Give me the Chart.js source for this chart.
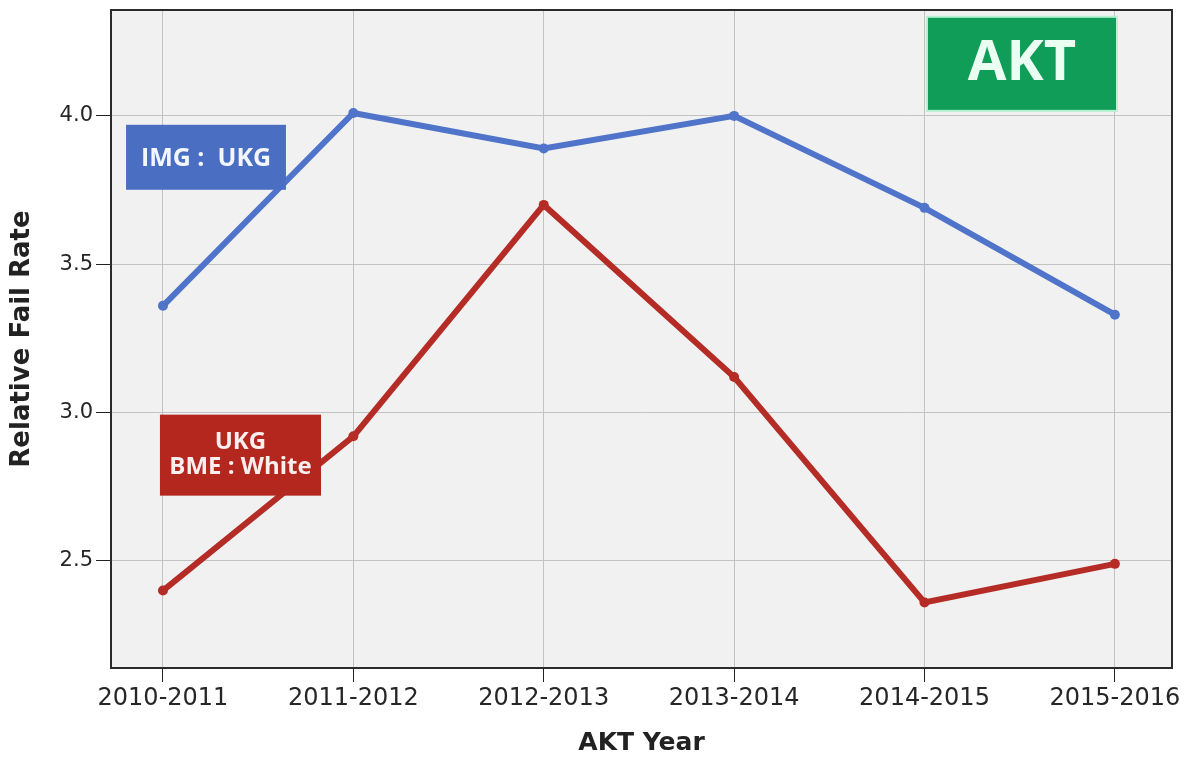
<!DOCTYPE html>
<html>
<head>
<meta charset="utf-8">
<script src="https://cdn.jsdelivr.net/npm/chart.js@4/dist/chart.umd.min.js"></script>
<style>
  html, body { margin: 0; padding: 0; background: #ffffff; }
  #wrap { width: 1191px; height: 762px; }
</style>
</head>
<body>
<div id="wrap"><canvas id="aktChart" width="1191" height="762"></canvas></div>
<script>
// data
const years = ["2010-2011", "2011-2012", "2012-2013", "2013-2014", "2014-2015", "2015-2016"];
const imgUkg = [3.36, 4.01, 3.89, 4.0, 3.69, 3.33];
const bmeWhite = [2.4, 2.92, 3.7, 3.12, 2.36, 2.49];
const yTicks = [2.5, 3.0, 3.5, 4.0];

// boxed labels, placed in data units
const boxes = [
  { x0: -0.194, x1: 0.646, y0: 3.970, y1: 3.751, fill: "#4a6ec2", text: ["IMG :  UKG"], font: "bold 25px 'Open Sans'", color: "#f4f6ff", dy: 2 },
  { x0: -0.016, x1: 0.830, y0: 2.993, y1: 2.720, fill: "#b3271f", text: ["UKG", "BME : White"], font: "bold 24px 'Open Sans'", color: "#fbeeee", dy: 0 },
  { x0: 4.013, x1: 5.011, y0: 4.334, y1: 4.017, fill: "#0f9d58", text: ["AKT"], font: "bold 56px 'Open Sans'", color: "#eafff2", border: "#b6f2d2", dy: 0 },
];

const toPoints = (vals) => vals.map((v, i) => ({ x: i, y: v }));

const frame = {
  id: "frame",
  beforeDraw(chart) {
    const { ctx, chartArea: a } = chart;
    ctx.save();
    ctx.fillStyle = "#f1f1f1";
    ctx.fillRect(a.left, a.top, a.right - a.left, a.bottom - a.top);
    ctx.restore();
  },
  afterDatasetsDraw(chart) {
    const { ctx, chartArea: a, scales } = chart;
    ctx.save();
    boxes.forEach((b) => {
      const l = scales.x.getPixelForValue(b.x0);
      const r = scales.x.getPixelForValue(b.x1);
      const t = scales.y.getPixelForValue(b.y0);
      const btm = scales.y.getPixelForValue(b.y1);
      ctx.fillStyle = b.fill;
      ctx.fillRect(l, t, r - l, btm - t);
      if (b.border) {
        ctx.strokeStyle = b.border;
        ctx.lineWidth = 2;
        ctx.strokeRect(l, t, r - l, btm - t);
      }
      ctx.fillStyle = b.color;
      ctx.font = b.font;
      ctx.textAlign = "center";
      ctx.textBaseline = "middle";
      const lh = b.text.length > 1 ? 25 : 0;
      const cy = (t + btm) / 2 - (lh * (b.text.length - 1)) / 2 + b.dy;
      b.text.forEach((s, i) => ctx.fillText(s, (l + r) / 2, cy + i * lh));
    });
    // plot frame
    ctx.strokeStyle = "#2b2b2b";
    ctx.lineWidth = 2;
    ctx.strokeRect(a.left, a.top, a.right - a.left, a.bottom - a.top);
    ctx.restore();
  },
};

new Chart(document.getElementById("aktChart"), {
  type: "line",
  data: {
    datasets: [
      {
        label: "IMG : UKG",
        data: toPoints(imgUkg),
        borderColor: "#4f74c9",
        backgroundColor: "#4f74c9",
        borderWidth: 6,
        pointRadius: 5,
        pointBackgroundColor: "#4f74c9",
        pointBorderWidth: 0,
        tension: 0,
      },
      {
        label: "BME : White",
        data: toPoints(bmeWhite),
        borderColor: "#b52c26",
        backgroundColor: "#b52c26",
        borderWidth: 6,
        pointRadius: 5,
        pointBackgroundColor: "#b52c26",
        pointBorderWidth: 0,
        tension: 0,
      },
    ],
  },
  options: {
    responsive: false,
    animation: false,
    layout: { padding: { left: 0, top: 10, right: 19, bottom: 0 } },
    plugins: {
      legend: { display: false },
      tooltip: { enabled: false },
    },
    scales: {
      x: {
        type: "linear",
        min: -0.273,
        max: 5.3,
        afterBuildTicks: (scale) => {
          scale.ticks = years.map((_, i) => ({ value: i }));
        },
        afterFit: (scale) => {
          scale.height = 94;
          scale.paddingLeft = 0;
          scale.paddingRight = 0;
        },
        grid: { color: "#c2c2c2", lineWidth: 1, tickColor: "#222", tickLength: 14 },
        border: { display: false },
        ticks: {
          callback: (v) => years[v],
          autoSkip: false,
          maxRotation: 0,
          padding: 2,
          color: "#262626",
          font: { family: "'DejaVu Sans'", size: 24 },
        },
        title: {
          display: true,
          text: "AKT Year",
          color: "#222",
          padding: { top: 0, bottom: 4 },
          font: { family: "'DejaVu Sans'", size: 25, weight: "bold" },
        },
      },
      y: {
        min: 2.139,
        max: 4.357,
        afterBuildTicks: (scale) => {
          scale.ticks = yTicks.map((v) => ({ value: v }));
        },
        afterFit: (scale) => {
          scale.width = 111;
          scale.paddingTop = 0;
          scale.paddingBottom = 0;
        },
        grid: { color: "#c2c2c2", lineWidth: 1, tickColor: "#222", tickLength: 15 },
        border: { display: false },
        ticks: {
          callback: (v) => v.toFixed(1),
          padding: 3,
          color: "#262626",
          font: { family: "'DejaVu Sans'", size: 21 },
        },
        title: {
          display: true,
          text: "Relative Fail Rate",
          color: "#222",
          padding: { top: 7, bottom: 0 },
          font: { family: "'DejaVu Sans'", size: 26, weight: "bold" },
        },
      },
    },
  },
  plugins: [frame],
});
</script>
</body>
</html>
